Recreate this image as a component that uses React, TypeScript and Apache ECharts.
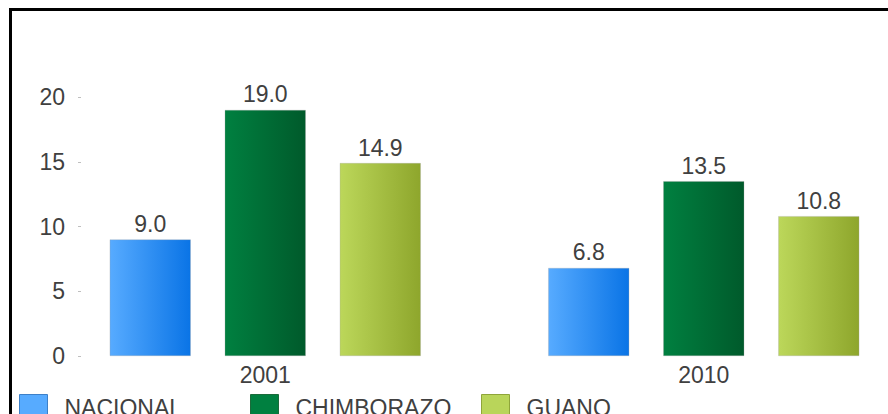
import React, { useEffect, useRef } from "react";
import * as echarts from "echarts";

const categories = ["2001", "2010"];
const seriesNames = ["NACIONAL", "CHIMBORAZO", "GUANO"];
const nacional = [9.0, 6.8];
const chimborazo = [19.0, 13.5];
const guano = [14.9, 10.8];
const yTicks = { min: 0, max: 20, interval: 5 };

const gradients = [
  ["#57abff", "#0a74e6", "#3d80c8"],
  ["#008040", "#005a2b", "#1a6b3a"],
  ["#bcd75a", "#8ea62c", "#8fa53a"],
];
const legendFill = ["#57abff", "#008040", "#b9d55a"];
const legendLeft = [19, 250, 481];

export default function App() {
  const ref = useRef<HTMLDivElement>(null);
  useEffect(() => {
    if (!ref.current) return;
    const chart = echarts.init(ref.current, undefined, { renderer: "svg" });
    const values = [nacional, chimborazo, guano];
    const font = "Liberation Sans, Arial, sans-serif";
    const textColor = "#404040";
    const fs = 23;
    chart.setOption({
      animation: false,
      textStyle: { fontFamily: font },
      grid: { left: 46, top: 97, width: 877, height: 259 },
      xAxis: {
        type: "category",
        data: categories,
        axisLine: { show: false },
        axisTick: { show: false },
        axisLabel: { color: textColor, fontSize: fs, margin: 7, fontFamily: font },
      },
      yAxis: {
        type: "value",
        min: yTicks.min,
        max: yTicks.max,
        interval: yTicks.interval,
        offset: -35,
        axisLine: { show: false },
        axisTick: { show: true, length: 3, lineStyle: { color: "#bfbfbf" } },
        splitLine: { show: false },
        axisLabel: { color: textColor, fontSize: fs, margin: 16, fontFamily: font },
      },
      legend: seriesNames.map((n, i) => ({
        data: [
          {
            name: n,
            itemStyle: { color: legendFill[i], borderColor: gradients[i][2], borderWidth: 1 },
          },
        ],
        left: legendLeft[i],
        top: 394,
        icon: "rect",
        itemWidth: 28,
        itemHeight: 26,
        padding: 0,
        textStyle: { color: textColor, fontSize: fs, fontFamily: font, padding: [0, 0, 0, 12] },
      })),
      series: seriesNames.map((n, i) => ({
        name: n,
        type: "bar",
        data: values[i],
        barWidth: 81,
        barGap: "42%",
        itemStyle: {
          color: new echarts.graphic.LinearGradient(0, 0, 1, 0, [
            { offset: 0, color: gradients[i][0] },
            { offset: 1, color: gradients[i][1] },
          ]),
          borderColor: "rgba(160,160,160,0.6)",
          borderWidth: 0.5,
        },
        label: {
          show: true,
          position: "top",
          distance: 4,
          color: textColor,
          fontSize: fs,
          fontFamily: font,
          formatter: (p: any) => Number(p.value).toFixed(1),
        },
      })),
      graphic: [
        {
          type: "rect",
          shape: { x: 10.5, y: 9.5, width: 1000, height: 500 },
          style: { fill: "none", stroke: "#000", lineWidth: 3 },
          silent: true,
        },
      ],
    });
    return () => chart.dispose();
  }, []);
  return (
    <div style={{ position: "fixed", left: 0, top: 0, width: 888, height: 414, overflow: "hidden", background: "#fff" }}>
      <div ref={ref} style={{ width: 1000, height: 520 }} />
    </div>
  );
}
